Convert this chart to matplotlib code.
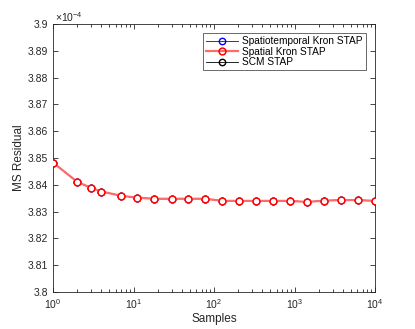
import matplotlib
matplotlib.use("Agg")
import matplotlib.pyplot as plt
from matplotlib.ticker import FormatStrFormatter, LogLocator, LogFormatterMathtext

plt.rcParams['font.family'] = ['Liberation Sans', 'DejaVu Sans']
plt.rcParams['mathtext.fontset'] = 'custom'
plt.rcParams['mathtext.rm'] = 'Liberation Sans'
plt.rcParams['mathtext.it'] = 'Liberation Sans:italic'

samples = [1, 2, 3, 4, 7, 11, 18, 30, 48, 78, 127, 207, 336, 546, 886,
           1438, 2336, 3793, 6158, 10000]
# MS residual values in units of 1e-4
spatial_kron = [3.8483, 3.8411, 3.8388, 3.8375, 3.8359, 3.8352, 3.8348, 3.8348,
                3.8348, 3.8348, 3.8340, 3.8340, 3.8340, 3.8340, 3.8340,
                3.8336, 3.8341, 3.8343, 3.8343, 3.8340]
spatiotemporal_kron = list(spatial_kron)
scm = list(spatial_kron)

labels = ['Spatiotemporal Kron STAP', 'Spatial Kron STAP', 'SCM STAP']
yticks = [3.8, 3.81, 3.82, 3.83, 3.84, 3.85, 3.86, 3.87, 3.88, 3.89, 3.9]

fig = plt.figure(figsize=(4.15, 3.29), dpi=100)
ax = fig.add_axes([53/415, 1-292/329, (375-53)/415, (292-24)/329])

ms = 4.6
ax.plot(samples, spatiotemporal_kron, '-o', color='blue', mfc='none', mec='blue',
        ms=ms, lw=0.6, mew=1.0, label=labels[0], zorder=2)
ax.plot(samples, scm, '-o', color='black', mfc='none', mec='black',
        ms=ms, lw=0.6, mew=1.0, label=labels[2], zorder=2.1)
ax.plot(samples, spatial_kron, '-o', color='#ff6a6a', mfc='white', mec='red',
        ms=ms + 0.3, lw=1.6, mew=1.1, label=labels[1], zorder=3)

ax.set_xscale('log')
ax.set_xlim(1, 1e4)
ax.set_ylim(3.8, 3.9)
ax.set_yticks(yticks)
ax.yaxis.set_major_formatter(FormatStrFormatter('%g'))
ax.xaxis.set_major_locator(LogLocator(base=10, numticks=10))
ax.xaxis.set_major_formatter(LogFormatterMathtext())

axcol = '#262626'
for s in ax.spines.values():
    s.set_color(axcol)
    s.set_linewidth(0.6)
ax.tick_params(which='both', direction='in', top=True, right=True,
               colors=axcol, labelsize=7.5, width=0.6)
ax.tick_params(which='major', length=3.5)
ax.tick_params(which='minor', length=2)
ax.tick_params(axis='x', pad=4)

ax.set_xlabel('Samples', fontsize=8.5, color=axcol, labelpad=1)
ax.set_ylabel('MS Residual', fontsize=8.5, color=axcol, labelpad=2)
fig.text(55/415, 1-17/329, r'$\times10^{-4}$', fontsize=7.5, color=axcol,
         ha='left', va='center')

h, l = ax.get_legend_handles_labels()
order = [0, 2, 1]
leg = ax.legend([h[i] for i in order], [l[i] for i in order], loc='upper right',
                fontsize=7.3, frameon=True, fancybox=False, edgecolor=axcol,
                borderpad=0.3, labelspacing=0.05, handlelength=3.2,
                handletextpad=0.4, borderaxespad=0.9)
leg.get_frame().set_linewidth(0.6)
for lh in leg.legend_handles:
    lh.set_markerfacecolor('none')

fig.savefig('out.png', dpi=100)
